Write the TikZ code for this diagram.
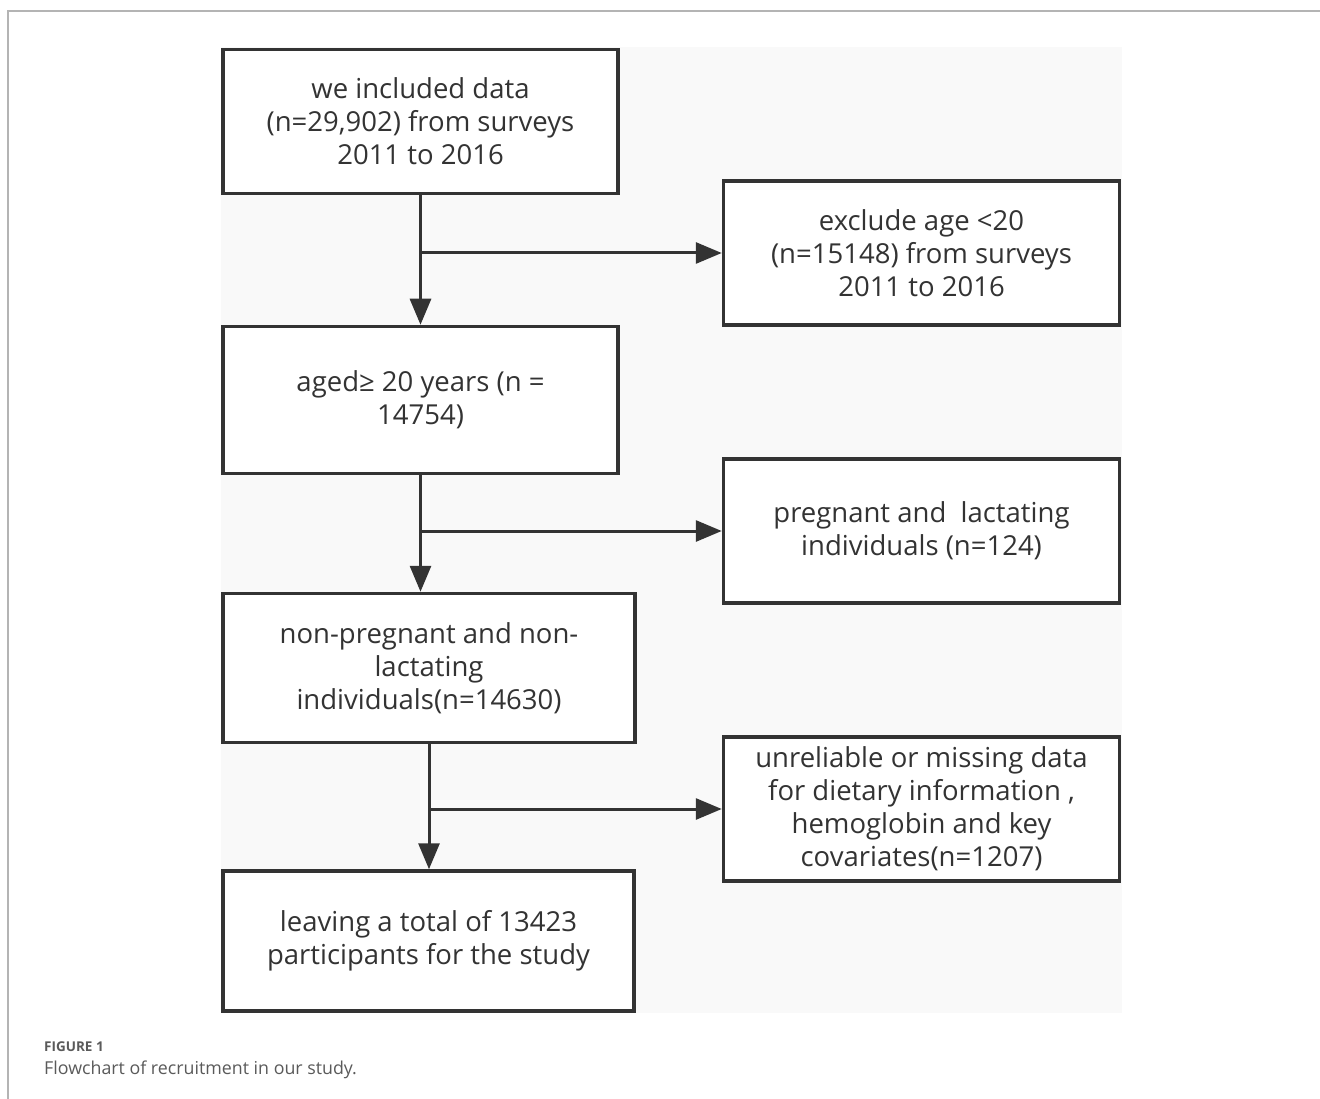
\documentclass[tikz,border=0pt]{standalone}
\usepackage{fontspec}
\setmainfont{Open Sans}
\usetikzlibrary{arrows.meta,calc}
\definecolor{ink}{HTML}{333333}
\definecolor{panel}{HTML}{F9F9F9}
\definecolor{frame}{HTML}{B4B4B4}
\definecolor{captxt}{HTML}{5A5A5A}
\tikzset{
  flowbox/.style={draw=ink, line width=3.5pt, fill=white, rectangle, inner sep=0pt,
    align=center, text=ink, font=\fontsize{27.5}{33}\selectfont},
  flowarrow/.style={draw=ink, line width=3pt, -{Triangle[length=26pt,width=21pt]}},
  flowline/.style={draw=ink, line width=3pt}
}
\begin{document}
\begin{tikzpicture}[x=1pt,y=-1pt]
\useasboundingbox (0,0) rectangle (1320,1099);
\fill[white] (0,0) rectangle (1320,1099);
% outer frame (top and left edges visible)
\draw[frame, line width=1.6pt] (8,1099) -- (8,11) -- (1320,11);
% light panel
\fill[panel] (221,47) rectangle (1122,1013);
% boxes
\node[flowbox, minimum width=395pt, minimum height=144pt] (A) at (420.5,121.5)
  {we included data\\(n=29,902) from surveys\\2011 to 2016};
\node[flowbox, minimum width=396pt, minimum height=144pt] (B) at (921.5,253)
  {exclude age <20\\(n=15148) from surveys\\2011 to 2016};
\node[flowbox, minimum width=395pt, minimum height=147pt] (C) at (420.5,400)
  {aged≥ 20 years (n =\\14754)};
\node[flowbox, minimum width=396pt, minimum height=144pt] (D) at (921.5,531)
  {pregnant and\ \ lactating\\individuals (n=124)};
\node[flowbox, minimum width=412pt, minimum height=149pt] (E) at (429,668)
  {non-pregnant and non-\\lactating\\individuals(n=14630)};
\node[flowbox, minimum width=396pt, minimum height=144pt] (F) at (921.5,809)
  {unreliable or missing data\\for dietary information ,\\hemoglobin and key\\covariates(n=1207)};
\node[flowbox, minimum width=411pt, minimum height=140pt] (G) at (428.5,941)
  {leaving a total of 13423\\participants for the study};
% connectors
\coordinate (j1) at (A.south |- B.west);
\coordinate (j2) at (C.south |- D.west);
\coordinate (j3) at (E.south |- F.west);
\draw[flowarrow] (A.south) -- (C.north);
\draw[flowarrow] (j1) -- (B.west);
\draw[flowarrow] (C.south) -- (C.south |- E.north);
\draw[flowarrow] (j2) -- (D.west);
\draw[flowarrow] (E.south) -- (E.south |- G.north);
\draw[flowarrow] (j3) -- (F.west);
% caption
\node[anchor=base west, inner sep=0pt, text=captxt, font=\fontsize{13.5}{15}\selectfont\bfseries] (cap1) at (44,1051) {FIGURE 1};
\node[anchor=base west, inner sep=0pt, text=captxt, font=\fontsize{17.8}{20}\selectfont] (cap2) at (44,1074) {Flowchart of recruitment in our study.};
\end{tikzpicture}
\end{document}
